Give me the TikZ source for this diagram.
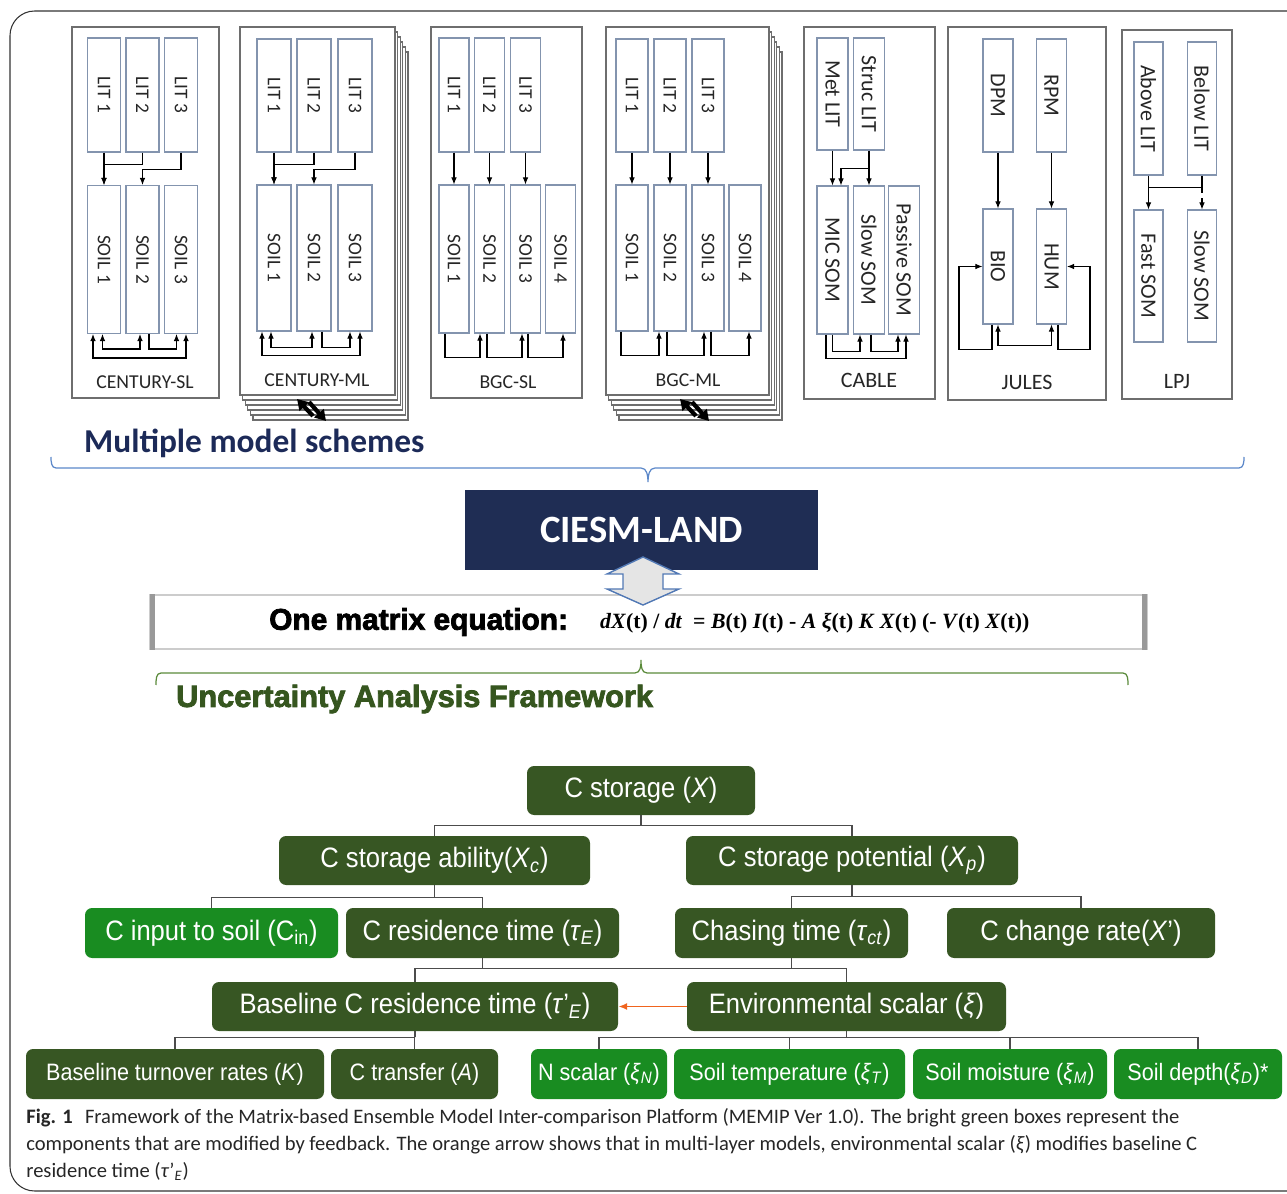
\documentclass[tikz,border=0pt]{standalone}
\usepackage{fontspec}
\setmainfont{Carlito}
\newfontfamily\treefont{Liberation Sans}[FakeStretch=0.91]
\newfontfamily\heavyfont{Liberation Sans}[BoldFeatures={FakeBold=2.6}]
\newfontfamily\eqfont{Liberation Serif}
\usetikzlibrary{arrows.meta,calc,positioning}

\definecolor{navy}{HTML}{1F2D54}
\definecolor{schemeblue}{HTML}{1C2A58}
\definecolor{bracket}{HTML}{5B87C9}
\definecolor{leaf}{HTML}{375623}
\definecolor{sprout}{HTML}{198C21}
\definecolor{uafgreen}{HTML}{36561F}
\definecolor{bracegreen}{HTML}{5A8A3A}
\definecolor{ember}{HTML}{F0641E}
\definecolor{poolline}{HTML}{8394AE}
\definecolor{boxline}{HTML}{6E6E6E}

\newcommand{\vlabel}[1]{\rotatebox{-90}{#1}}
\newcommand{\lowtxt}[1]{\textsubscript{#1}}

\begin{document}
\begin{tikzpicture}[x=0.2mm, y=-0.2mm,
    wh/.style 2 args={minimum width=#1*0.2mm, minimum height=#2*0.2mm},
    scheme/.style={draw=boxline, line width=0.9pt, fill=white, inner sep=0pt},
    pool/.style={draw=poolline, line width=0.6pt, fill=white, inner sep=0pt, text=black!85, font=\fontsize{11}{12}\selectfont},
    bigpool/.style={pool, font=\fontsize{12.5}{14}\selectfont},
    mname/.style={text=black!85, font=\fontsize{11.2}{13}\selectfont},
    flow/.style={-{Latex[length=4pt,width=3.2pt]}, line width=0.6pt},
    twoway/.style={{Latex[length=4pt,width=3.2pt]}-{Latex[length=4pt,width=3.2pt]}, line width=0.6pt},
    flipflow/.style={-{Triangle[length=6pt,width=7pt]}, line width=2.4pt},
    tnode/.style={rounded corners=4pt, fill=leaf, text=white, inner sep=0pt, font=\treefont\fontsize{16}{18}\selectfont},
    tfresh/.style={tnode, fill=sprout},
    tsmall/.style={font=\treefont\fontsize{13.5}{15}\selectfont},
    tline/.style={draw=black!70, line width=0.7pt},
  ]
\useasboundingbox (0,0) rectangle (1287,1194);
\draw[black!80, line width=0.6pt, rounded corners=14] (10,11) rectangle (1320,1191);

% CENTURY-SL
\node[scheme, wh={147}{371}] (csl) at (145.5,212.5) {};
\node[mname] (csllab) at (145,382) {CENTURY-SL};
\node[pool, wh={33}{114}] (csl1) at (104,95) {\vlabel{LIT 1}};
\node[pool, wh={33}{114}] (csl2) at (142.5,95) {\vlabel{LIT 2}};
\node[pool, wh={33}{114}] (csl3) at (181,95) {\vlabel{LIT 3}};
\node[pool, wh={33}{148}] (css1) at (104,259.5) {\vlabel{SOIL 1}};
\node[pool, wh={33}{148}] (css2) at (142.5,259.5) {\vlabel{SOIL 2}};
\node[pool, wh={33}{148}] (css3) at (181,259.5) {\vlabel{SOIL 3}};
\draw[flow] (csl1.south) -- (css1.north);
\draw[flow] (csl2.south) -- ++(0,12) -| (css1.north);
\draw[flow] (csl3.south) -- ++(0,17) -| (css2.north);
\draw[twoway] ($(css1.south)+(-1.5,0)$) -- ++(0,15) -| ($(css2.south)+(-2.5,0)$);
\draw[flow] ($(css2.south)+(6.5,0)$) -- ++(0,15) -| ($(css3.south)+(-4.5,0)$);
\draw[twoway] ($(css1.south)+(-11,0)$) -- ++(0,24) -| ($(css3.south)+(5,0)$);

% CENTURY-ML, with its stacked layers
\foreach \k in {5,4,3,2,1}
  \draw[boxline, fill=white, line width=0.6pt] (240+2.6*\k,27+5*\k) rectangle (395+2.6*\k,395+5*\k);
\node[scheme, wh={155}{368}] (cml) at (317.5,211) {};
\node[mname] (cmllab) at (317,380) {CENTURY-ML};
\node[pool, wh={34}{113}] (cml1) at (274,95.5) {\vlabel{LIT 1}};
\node[pool, wh={34}{113}] (cml2) at (314,95.5) {\vlabel{LIT 2}};
\node[pool, wh={34}{113}] (cml3) at (355,95.5) {\vlabel{LIT 3}};
\node[pool, wh={34}{146}] (cms1) at (274,258) {\vlabel{SOIL 1}};
\node[pool, wh={34}{146}] (cms2) at (314,258) {\vlabel{SOIL 2}};
\node[pool, wh={34}{146}] (cms3) at (355,258) {\vlabel{SOIL 3}};
\draw[flow] (cml1.south) -- (cms1.north);
\draw[flow] (cml2.south) -- ++(0,12) -| (cms1.north);
\draw[flow] (cml3.south) -- ++(0,17) -| (cms2.north);
\draw[twoway] ($(cms1.south)+(-3,0)$) -- ++(0,16) -| ($(cms2.south)+(-2,0)$);
\draw[flow] ($(cms2.south)+(8,0)$) -- ++(0,16) -| ($(cms3.south)+(-5,0)$);
\draw[twoway] ($(cms1.south)+(-12,0)$) -- ++(0,24) -| ($(cms3.south)+(5,0)$);
\coordinate (cmlswap) at (311,410);
\draw[flipflow] ($(cmlswap)+(2,6)$) -- ($(cmlswap)+(-14,-11)$);
\draw[flipflow] ($(cmlswap)+(-2,-8)$) -- ($(cmlswap)+(15,11)$);

% BGC-SL
\node[scheme, wh={151}{371}] (bsl) at (506.5,212.5) {};
\node[mname] (bsllab) at (508,382) {BGC-SL};
\node[pool, wh={30}{114}] (bsl1) at (454,95) {\vlabel{LIT 1}};
\node[pool, wh={30}{114}] (bsl2) at (489.5,95) {\vlabel{LIT 2}};
\node[pool, wh={30}{114}] (bsl3) at (525.5,95) {\vlabel{LIT 3}};
\node[pool, wh={30}{148}] (bss1) at (454,259) {\vlabel{SOIL 1}};
\node[pool, wh={30}{148}] (bss2) at (489.5,259) {\vlabel{SOIL 2}};
\node[pool, wh={30}{148}] (bss3) at (525.5,259) {\vlabel{SOIL 3}};
\node[pool, wh={30}{148}] (bss4) at (560.5,259) {\vlabel{SOIL 4}};
\draw[flow] (bsl1.south) -- (bss1.north);
\draw[flow] (bsl2.south) -- (bss2.north);
\draw[flow] (bsl3.south) -- (bss3.north);
\draw[flow] ($(bss1.south)+(-9,0)$) -- ++(0,24) -| ($(bss2.south)+(-9.5,0)$);
\draw[flow] ($(bss2.south)+(-2.5,0)$) -- ++(0,24) -| ($(bss3.south)+(-3.5,0)$);
\draw[flow] ($(bss3.south)+(2.5,0)$) -- ++(0,24) -| ($(bss4.south)+(2.5,0)$);

% BGC-ML, with its stacked layers
\foreach \k in {5,4,3,2,1}
  \draw[boxline, fill=white, line width=0.6pt] (606+2.6*\k,27+5*\k) rectangle (769+2.6*\k,395+5*\k);
\node[scheme, wh={163}{368}] (bml) at (687.5,211) {};
\node[mname] (bmllab) at (688,380) {BGC-ML};
\node[pool, wh={32}{113}] (bml1) at (632,95.5) {\vlabel{LIT 1}};
\node[pool, wh={32}{113}] (bml2) at (670,95.5) {\vlabel{LIT 2}};
\node[pool, wh={32}{113}] (bml3) at (708,95.5) {\vlabel{LIT 3}};
\node[pool, wh={32}{146}] (bms1) at (632,258) {\vlabel{SOIL 1}};
\node[pool, wh={32}{146}] (bms2) at (670,258) {\vlabel{SOIL 2}};
\node[pool, wh={32}{146}] (bms3) at (708,258) {\vlabel{SOIL 3}};
\node[pool, wh={32}{146}] (bms4) at (745,258) {\vlabel{SOIL 4}};
\draw[flow] (bml1.south) -- (bms1.north);
\draw[flow] (bml2.south) -- (bms2.north);
\draw[flow] (bml3.south) -- (bms3.north);
\draw[flow] ($(bms1.south)+(-11,0)$) -- ++(0,24) -| ($(bms2.south)+(-11,0)$);
\draw[flow] ($(bms2.south)+(-3,0)$) -- ++(0,24) -| ($(bms3.south)+(-4,0)$);
\draw[flow] ($(bms3.south)+(3,0)$) -- ++(0,24) -| ($(bms4.south)+(4,0)$);
\coordinate (bmlswap) at (694,410);
\draw[flipflow] ($(bmlswap)+(2,6)$) -- ($(bmlswap)+(-14,-11)$);
\draw[flipflow] ($(bmlswap)+(-2,-8)$) -- ($(bmlswap)+(15,11)$);

% CABLE
\node[scheme, wh={131}{372}] (cab) at (869.5,213) {};
\node[mname, font=\fontsize{12.5}{14}\selectfont] (cablab) at (869,380) {CABLE};
\node[bigpool, wh={31}{112}] (metlit) at (832.5,94) {\vlabel{Met LIT}};
\node[bigpool, wh={31}{112}] (struclit) at (869,94) {\vlabel{Struc LIT}};
\node[bigpool, wh={31}{148}] (micsom) at (832.5,260) {\vlabel{MIC SOM}};
\node[bigpool, wh={31}{148}] (cslow) at (869,260) {\vlabel{Slow SOM}};
\node[bigpool, wh={31}{148}] (cpassive) at (904,260) {\vlabel{Passive SOM}};
\draw[flow] (metlit.south) -- (micsom.north);
\draw[flow] (struclit.south) -- (cslow.north);
\draw[flow] ($(struclit.south)+(0,18)$) -| ($(micsom.north)+(8.5,0)$);
\draw[flow] (micsom.south) -- ++(0,17) -| ($(cslow.south)+(-9,0)$);
\draw[flow] ($(cslow.south)+(2,0)$) -- ++(0,17) -| ($(cpassive.south)+(-6,0)$);
\draw[flow] ($(micsom.south)+(-6.5,0)$) -- ++(0,24) -| ($(cpassive.south)+(2,0)$);

% JULES
\node[scheme, wh={158}{373}] (jul) at (1027,213.5) {};
\node[mname, font=\fontsize{12.5}{14}\selectfont] (jullab) at (1027,382) {JULES};
\node[bigpool, wh={30}{113}] (dpm) at (998,95.5) {\vlabel{DPM}};
\node[bigpool, wh={30}{113}] (rpm) at (1051.5,95.5) {\vlabel{RPM}};
\node[bigpool, wh={30}{115}] (bio) at (998,266.5) {\vlabel{BIO}};
\node[bigpool, wh={30}{115}] (hum) at (1051.5,266.5) {\vlabel{HUM}};
\draw[flow] (dpm.south) -- (bio.north);
\draw[flow] (rpm.south) -- (hum.north);
\draw[flow] ($(bio.south)+(-6,0)$) -- ++(0,25) -- ++(-33,0) |- (bio.west);
\draw[flow] ($(hum.south)+(6.5,0)$) -- ++(0,25) -- ++(32,0) |- (hum.east);
\draw[twoway] (bio.south) -- ++(0,21) -| (hum.south);

% LPJ
\node[scheme, wh={110}{369}] (lpj) at (1177,214.5) {};
\node[mname, font=\fontsize{12.5}{14}\selectfont] (lpjlab) at (1177,382) {LPJ};
\node[bigpool, wh={29}{133}] (abovelit) at (1148.5,108.5) {\vlabel{Above LIT}};
\node[bigpool, wh={29}{133}] (belowlit) at (1202,108.5) {\vlabel{Below LIT}};
\node[bigpool, wh={29}{132}] (fastsom) at (1148.5,276) {\vlabel{Fast SOM}};
\node[bigpool, wh={29}{132}] (lslow) at (1202,276) {\vlabel{Slow SOM}};
\draw[flow] (abovelit.south) -- (fastsom.north);
\draw[line width=0.6pt] (belowlit.south) -- ++(0,12) -- ($(abovelit.south)+(0,12)$);
\draw[flow, dashed] ($(belowlit.south)+(0,12)$) -- (lslow.north);

% scheme heading and brace
\node[anchor=west, text=schemeblue, font=\bfseries\fontsize{19}{22}\selectfont] (schemes) at (78,443) {Multiple model schemes};
\draw[bracket, line width=0.7pt] (51,457) to[out=-90,in=180] (56,468) -- (641,468)
  to[out=0,in=90] (648,482) to[out=90,in=180] (655,468) -- (1239,468) to[out=0,in=-90] (1244,457);

% land model and its equation
\node[fill=navy, text=white, font=\bfseries\fontsize{22}{26}\selectfont, wh={353}{80}] (ciesm) at (641.5,530) {CIESM-LAND};
\node[draw=black!20, fill=white, line width=0.6pt, wh={997}{54}] (eqn) at (648.5,622) {};
\draw[black!40, line width=3pt] ($(eqn.north west)+(3,0)$) -- ($(eqn.south west)+(3,0)$);
\draw[black!40, line width=3pt] ($(eqn.north east)+(-3,0)$) -- ($(eqn.south east)+(-3,0)$);
\draw[draw=bracket!90!black, fill=black!10, line width=0.8pt]
  (643,557) -- (679,574) -- (663,574) -- (663,589) -- (679,589) -- (643,605)
  -- (607,589) -- (623,589) -- (623,574) -- (607,574) -- cycle;
\node[anchor=west, font=\heavyfont\bfseries\fontsize{17}{19}\selectfont] (eqtitle) at (263,622) {One matrix equation:};
\node[anchor=west, font=\eqfont\bfseries\fontsize{12.4}{15}\selectfont] (eqbody) at (594,623)
  {\textit{dX}(t) / \textit{dt}\enspace = \textit{B}(t) \textit{I}(t) - \textit{A} \textit{ξ}(t) \textit{K} \textit{X}(t) (- \textit{V}(t) \textit{X}(t))};

% framework brace and heading
\draw[bracegreen, line width=0.7pt] (156,685) to[out=90,in=180] (161,673) -- (635,673)
  to[out=0,in=-90] (641,660) to[out=-90,in=180] (647,673) -- (1123,673) to[out=0,in=90] (1128,685);
\node[anchor=west, text=uafgreen, font=\heavyfont\bfseries\fontsize{17.5}{20}\selectfont] (uaf) at (170,699) {Uncertainty Analysis Framework};

% uncertainty tree
\node[tnode, wh={228}{49}] (cstore) at (641,790.5) {C storage (\textit{X})};
\node[tnode, wh={311}{49}] (ability) at (434.5,860.5) {C storage ability(\textit{X}\lowtxt{\textit{c}})};
\node[tnode, wh={332}{49}] (potential) at (852,860.5) {C storage potential (\textit{X}\lowtxt{\textit{p}})};
\node[tfresh, wh={253}{50}] (input) at (211.5,933) {C input to soil (C\lowtxt{in})};
\node[tnode, wh={273}{50}] (residence) at (482.5,933) {C residence time (\textit{τ}\lowtxt{\textit{E}})};
\node[tnode, wh={233}{50}] (chasing) at (791.5,933) {Chasing time (\textit{τ}\lowtxt{\textit{ct}})};
\node[tnode, wh={268}{50}] (change) at (1081,933) {C change rate(\textit{X}’)};
\node[tnode, wh={406}{49}] (baseline) at (415,1006.5) {Baseline C residence time (\textit{τ}’\lowtxt{\textit{E}})};
\node[tnode, wh={319}{49}] (env) at (846.5,1006.5) {Environmental scalar (\textit{ξ})};
\node[tnode, tsmall, wh={298}{50}] (turnover) at (175,1074) {Baseline turnover rates (\textit{K})};
\node[tnode, tsmall, wh={167}{50}] (transfer) at (414.5,1074) {C transfer (\textit{A})};
\node[tfresh, tsmall, wh={136}{50}] (nscalar) at (599,1074) {N scalar (\textit{ξ}\lowtxt{\textit{N}})};
\node[tfresh, tsmall, wh={231}{50}] (soiltemp) at (789.5,1074) {Soil temperature (\textit{ξ}\lowtxt{\textit{T}})};
\node[tfresh, tsmall, wh={194}{50}] (soilmoist) at (1010,1074) {Soil moisture (\textit{ξ}\lowtxt{\textit{M}})};
\node[tfresh, tsmall, wh={168}{50}] (soildepth) at (1198,1074) {Soil depth(\textit{ξ}\lowtxt{\textit{D}})*};

\draw[tline] (cstore.south) -- ++(0,10);
\draw[tline] (ability.north) |- ($(cstore.south)+(0,10)$) -| (potential.north);
\draw[tline] (ability.south) -- ++(0,12);
\draw[tline] (input.north) |- ($(ability.south)+(0,12)$) -| (residence.north);
\draw[tline] (potential.south) -- ++(0,11);
\draw[tline] (chasing.north) |- ($(potential.south)+(0,11)$) -| (change.north);
\draw[tline] (residence.south) -- ++(0,10);
\draw[tline] (chasing.south) -- ++(0,10);
\draw[tline] (baseline.north) |- ($(residence.south)+(0,10)$) -| (env.north);
\draw[tline] (baseline.south) -- ++(0,6);
\draw[tline] (turnover.north) |- ($(baseline.south)+(0,6)$) -| (transfer.north);
\draw[tline] (env.south) -- ++(0,6);
\draw[tline] (nscalar.north) |- ($(env.south)+(0,6)$) -| (soildepth.north);
\draw[tline] (soiltemp.north) -- ++(0,-12);
\draw[tline] (soilmoist.north) -- ++(0,-12);
\draw[ember, line width=1.1pt, -{Latex[length=5pt,width=4pt]}] (env.west) -- (baseline.east);

% caption
\node[anchor=north west, align=left, inner sep=0pt, text=black!85, font=\fontsize{11.7}{15.3}\selectfont] (caption) at (26,1108)
  {\textbf{Fig. 1}\hspace{0.6em}Framework of the Matrix-based Ensemble Model Inter-comparison Platform (MEMIP Ver 1.0). The bright green boxes represent the\\
   components that are modified by feedback. The orange arrow shows that in multi-layer models, environmental scalar (\textit{ξ}) modifies baseline C\\
   residence time (\textit{τ}’\lowtxt{\textit{E}})};
\end{tikzpicture}
\end{document}
